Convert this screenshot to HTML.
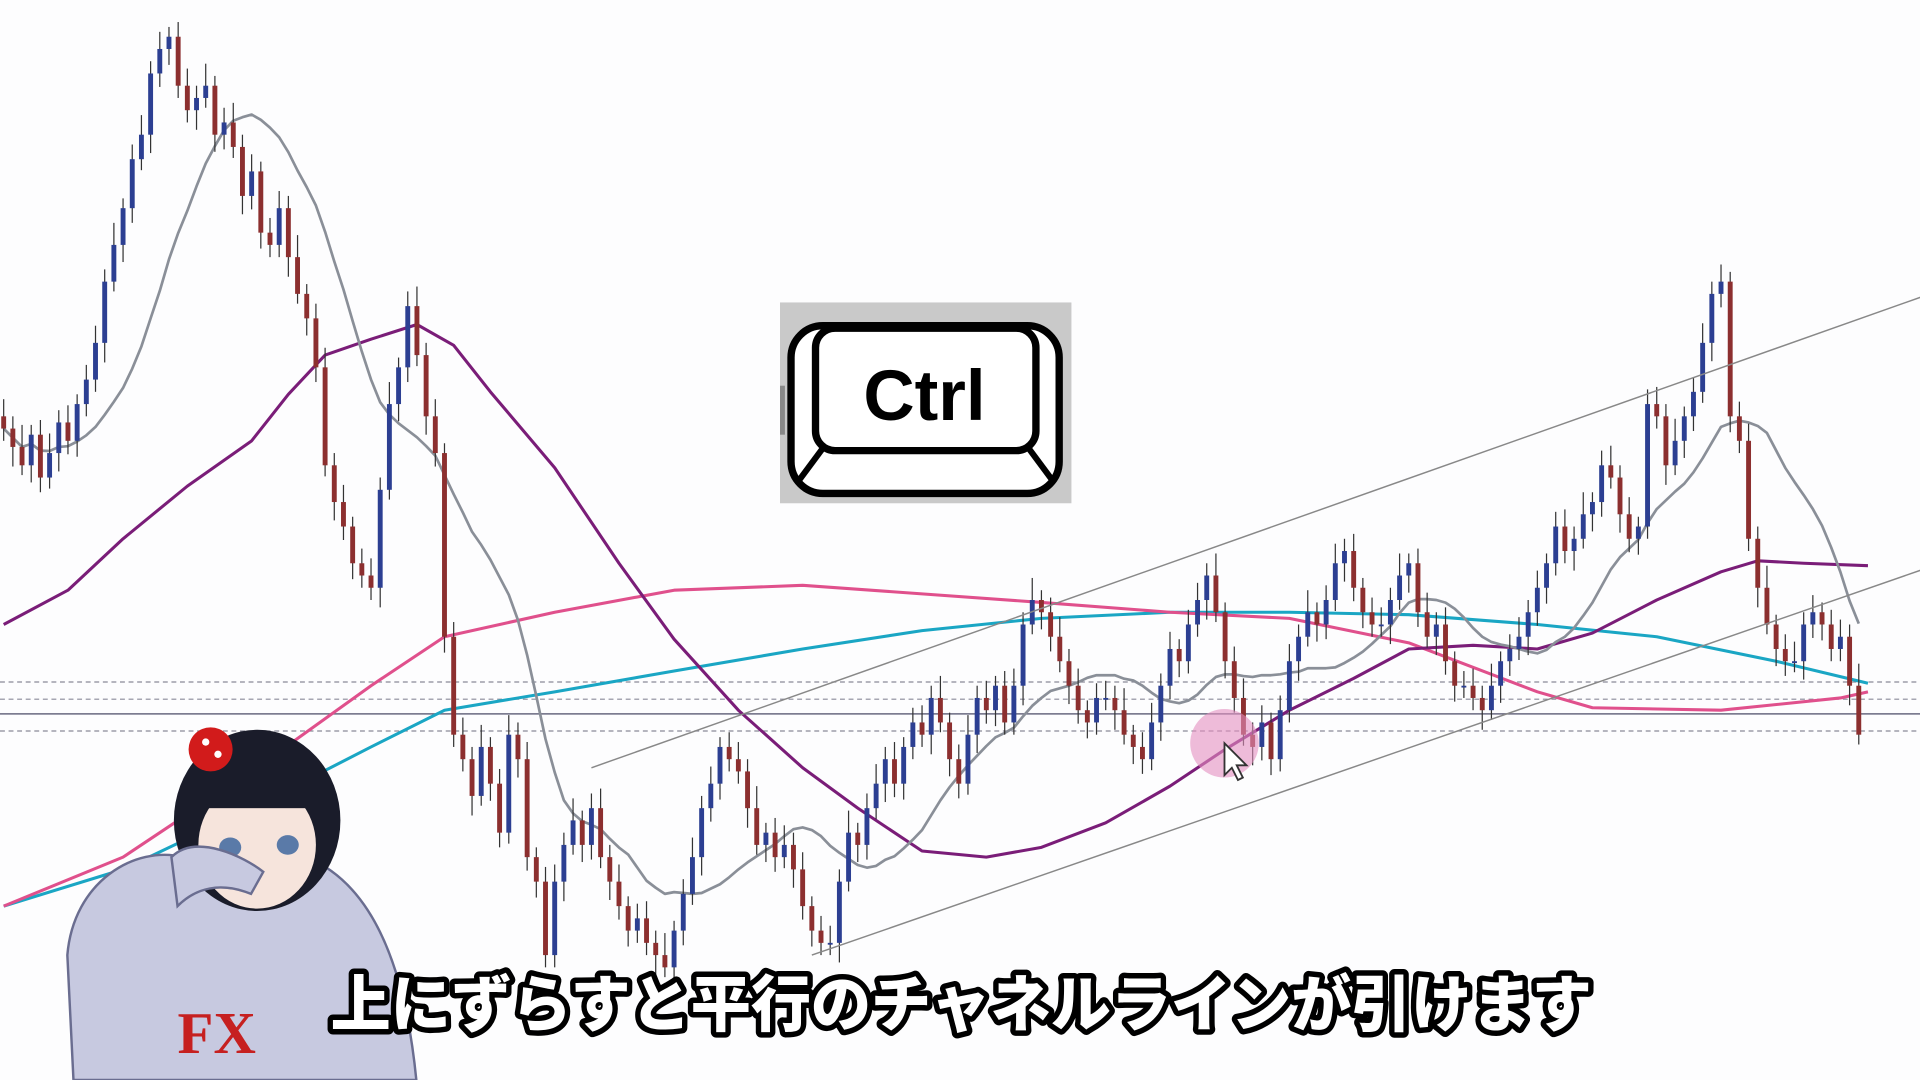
<!DOCTYPE html>
<html><head><meta charset="utf-8"><style>
html,body{margin:0;padding:0;background:#fff;width:1920px;height:1080px;overflow:hidden}
svg{display:block}
</style></head><body>
<svg id="chart" width="1920" height="1080" viewBox="0 0 1568 882" xmlns="http://www.w3.org/2000/svg">
<rect width="1568" height="882" fill="#fdfdfe"/>
<g id="hlines"></g>
<g id="mas"></g>
<g id="candles"></g>
<g id="channel"></g>
<circle cx="1000" cy="607" r="28" fill="#e58fc0" opacity="0.6"/>
<path d="M1000 607 l0 26 l6 -6 l5 10 l4 -2 l-5 -10 l8 0 z" fill="#fff" stroke="#333" stroke-width="1.5"/>
<g>
<rect x="637" y="247" width="238" height="164" fill="#c9c9c9"/>
<rect x="637" y="315" width="4" height="40" fill="#888"/>
<rect x="646" y="266" width="219" height="137" rx="26" fill="#fff" stroke="#000" stroke-width="6"/>
<rect x="666" y="268" width="180" height="100" rx="16" fill="#fff" stroke="#000" stroke-width="6"/>
<line x1="672" y1="366" x2="652" y2="393" stroke="#000" stroke-width="5"/>
<line x1="840" y1="366" x2="860" y2="393" stroke="#000" stroke-width="5"/>
<text x="755" y="343" font-family="'Liberation Sans',sans-serif" font-weight="bold" font-size="58" text-anchor="middle" fill="#000">Ctrl</text>
</g>
<g>
<path d="M55 780 C60 720 110 690 150 700 L200 720 L250 700 C300 720 330 780 340 882 L60 882 Z" fill="#c7c9e0" stroke="#6a6d90" stroke-width="2"/>
<ellipse cx="210" cy="670" rx="68" ry="74" fill="#1a1c2a"/>
<ellipse cx="210" cy="690" rx="48" ry="52" fill="#f6e4dc"/>
<rect x="160" y="620" width="100" height="40" fill="#1a1c2a"/>
<circle cx="172" cy="612" r="18" fill="#d21b1b"/>
<circle cx="168" cy="606" r="3" fill="#fff"/><circle cx="178" cy="616" r="3" fill="#fff"/>
<ellipse cx="188" cy="692" rx="9" ry="8" fill="#5a7aa8"/><ellipse cx="235" cy="690" rx="9" ry="8" fill="#5a7aa8"/>
<path d="M140 700 C160 680 200 700 215 712 L205 730 C180 720 160 725 145 740 Z" fill="#c7c9e0" stroke="#6a6d90" stroke-width="2"/>
<text x="145" y="860" font-family="'Liberation Serif',serif" font-size="48" font-weight="bold" fill="#c62020">FX</text>
</g>
<text x="785" y="838" text-anchor="middle" textLength="1030" lengthAdjust="spacingAndGlyphs" font-family="'Liberation Sans','Noto Sans CJK JP',sans-serif" font-weight="900" font-size="50" fill="#fff" stroke="#000" stroke-width="9" paint-order="stroke" stroke-linejoin="round">上にずらすと平行のチャネルラインが引けます</text>
</svg>
<script>
// close prices (arbitrary price units), one per candle
const closes = [532,517,502,527,492,512,537,522,552,572,
602,652,682,712,752,772,822,842,852,812,
792,802,812,772,782,762,722,742,692,682,
712,672,642,622,582,502,472,452,422,412,
402,482,552,582,632,592,542,512,362,282,
262,232,272,242,202,282,262,182,162,102,
162,192,212,192,222,182,162,142,122,132,
112,102,92,122,152,182,222,242,272,262,
252,222,192,202,182,192,172,142,122,112,
112,162,202,192,222,242,262,242,272,292,
282,312,292,262,242,282,312,302,322,292,
322,372,392,382,362,342,322,302,292,312,
312,302,282,272,262,292,322,352,342,372,
392,412,382,342,312,282,272,292,262,302,
342,362,382,372,392,422,432,402,382,372,
372,392,412,422,382,362,372,342,322,322,
312,302,322,342,352,362,382,402,422,452,
432,442,462,472,502,492,462,442,452,552,
542,502,522,542,562,602,642,652,542,522,
442,402,372,352,342,342,372,382,372,352,
362,322,282];
const wickUp = [14,10,18,8,12,16,10,14,8,12];
const wickDn = [10,16,8,14,12,9,15,11,13,10];
// slow moving-average readings at candle indices
const purpleIdx = [0,7,13,20,27,31,35,40,45,49,53,60,67,73,80,87,93,100,107,113,120,127,133,140,147,153,160,167,173,180,187,191,196,203];
const purpleVal = [372,400,442,485,522,560,592,605,617,600,562,500,422,360,302,255,222,187,182,190,210,240,270,302,328,352,355,352,365,392,415,424,422,420];
const pinkIdx = [0,13,27,40,48,60,73,87,100,113,127,140,153,167,173,187,200,203];
const pinkVal = [142,182,252,322,362,382,400,404,397,390,382,377,357,317,304,302,312,317];
const cyanIdx = [0,13,27,40,48,60,73,87,100,113,127,140,153,167,180,193,203];
const cyanVal = [142,172,222,272,302,317,334,352,367,377,382,382,380,372,362,342,324];
const levels = [325,311,299,285];
const levelDashed = [1,1,0,1];
const upperIdx = [64,209];
const upperVal = [255,640];
const lowerIdx = [88,209];
const lowerVal = [102,417];

const NS='http://www.w3.org/2000/svg';
const step=7.5;
const xScale=i=>3+i*step;
const yScale=p=>882-p;
function mk(tag,attrs,parent){const e=document.createElementNS(NS,tag);for(const k in attrs)e.setAttribute(k,attrs[k]);parent.appendChild(e);return e;}

const hl=document.getElementById('hlines');
levels.forEach((p,i)=>{
  const l=mk('line',{x1:0,x2:1568,y1:yScale(p),y2:yScale(p),stroke:levelDashed[i]?'#8a8a99':'#6a6a80','stroke-width':levelDashed[i]?1:1.3,'stroke-dasharray':levelDashed[i]?'4 3':'none'},hl);
  
  
});

const cg=document.getElementById('candles');
closes.forEach((c,i)=>{
  const o=i?closes[i-1]:c+10;
  const hi=Math.max(o,c)+wickUp[i%10], lo=Math.min(o,c)-wickDn[i%10];
  const up=c>=o, col=up?'#2c3f92':'#8c2f2f';
  const x=xScale(i);
  const w=mk('line',{x1:x,x2:x,y1:yScale(hi),y2:yScale(lo),stroke:'#333',"stroke-width":1},cg);
  
  
  const b=mk('rect',{x:x-2,y:yScale(Math.max(o,c)),width:4,height:Math.max(1.5,Math.abs(c-o)),fill:col},cg);
  
  
});

const mg=document.getElementById('mas');
function poly(idx,vals,color,name,w){
  const d=idx.map((ix,k)=>xScale(ix)+','+yScale(vals[k])).join(' ');
  const p=mk('polyline',{points:d,fill:'none',stroke:color,'stroke-width':w,'stroke-linejoin':'round'},mg);
  
  
}
poly(cyanIdx,cyanVal,'#1aa6c4','ma-cyan',2.5);
poly(pinkIdx,pinkVal,'#e0508c','ma-pink',2.5);
poly(purpleIdx,purpleVal,'#7a1d78','ma-purple',2.5);
// short gray SMA computed from closes
const N=14, si=[], sv=[];
for(let i=0;i<closes.length;i++){const a=closes.slice(Math.max(0,i-N+1),i+1);si.push(i);sv.push(a.reduce((s,v)=>s+v,0)/a.length);}
poly(si,sv,'#8a8f98','ma-gray',2.2);

const ch=document.getElementById('channel');
[[upperIdx,upperVal],[lowerIdx,lowerVal]].forEach((c,k)=>{
  const l=mk('line',{x1:xScale(c[0][0]),y1:yScale(c[1][0]),x2:xScale(c[0][1]),y2:yScale(c[1][1]),stroke:'#888','stroke-width':1.2},ch);
  
  
});
</script>
</body></html>
